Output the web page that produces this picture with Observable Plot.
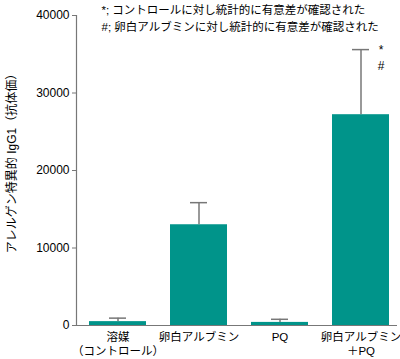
<!DOCTYPE html>
<html>
<head>
<meta charset="utf-8">
<script src="https://cdn.jsdelivr.net/npm/d3@7"></script>
<script src="https://cdn.jsdelivr.net/npm/@observablehq/plot@0.6"></script>
<style>
  html, body { margin: 0; padding: 0; background: #fff; }
  #chart svg { display: block; }
</style>
</head>
<body>
<div id="chart"></div>
<script>
// Categories (x labels) and values
const categories = ["溶媒\n（コントロール）", "卵白アルブミン", "PQ", "卵白アルブミン\n＋PQ"];
const means = [500, 13000, 400, 27200];
const upperErr = [950, 15850, 800, 35600];
const sigStar = ["", "", "", "*"];
const sigHash = ["", "", "", "#"];
const yTicks = [0, 10000, 20000, 30000, 40000];
const yLabel = "アレルゲン特異的 IgG1（抗体価）";
const notes = "*; コントロールに対し統計的に有意差が確認された\n#; 卵白アルブミンに対し統計的に有意差が確認された";

const data = categories.map((c, i) => ({
  cat: c, mean: means[i], upper: upperErr[i], star: sigStar[i], hash: sigHash[i]
}));

const font = "'Liberation Sans', Arial, 'Noto Sans CJK JP', sans-serif";
const teal = "#00948a";
const gray = "#777";

const chart = Plot.plot({
  width: 400,
  height: 359,
  marginLeft: 76,
  marginRight: 3,
  marginTop: 15,
  marginBottom: 34,
  style: { fontFamily: font, fontSize: "12px", color: "#000", background: "#fff" },
  x: { domain: categories, range: [76, 401], paddingInner: 0.3, paddingOuter: 0.15, label: null },
  y: { domain: [0, 40000], label: null },
  marks: [
    Plot.barY(data, { x: "cat", y: "mean", fill: teal }),
    Plot.ruleX(data, { x: "cat", y1: "mean", y2: "upper", stroke: gray, strokeWidth: 1.5 }),
    Plot.tickY(data, { x: "cat", y: "upper", stroke: gray, strokeWidth: 1.5, insetLeft: 20, insetRight: 20 }),
    Plot.ruleY([0], { stroke: gray, strokeWidth: 1.2 }),
    Plot.frame({ anchor: "left", stroke: gray, strokeWidth: 1.2 }),
    Plot.axisY({ ticks: yTicks, tickFormat: d3.format("d"), tickSize: 4, tickPadding: 3, stroke: gray, fontSize: 12, label: null }),
    Plot.axisX({ tickSize: 0, tickPadding: 6, fontSize: 11.5, lineHeight: 1.2, label: null }),
    Plot.text(data, { x: "cat", y: "upper", text: "star", dx: 20, dy: 1, fontSize: 12, textAnchor: "middle" }),
    Plot.text(data, { x: "cat", y: "upper", text: "hash", dx: 20, dy: 17, fontSize: 12, textAnchor: "middle" }),
    Plot.text([yLabel], { text: d => d, frameAnchor: "left", rotate: -90, dx: -64, dy: -10, fontSize: 12, textAnchor: "middle", lineAnchor: "middle" }),
    Plot.text([notes], { text: d => d, frameAnchor: "top-left", dx: 25, dy: -14, fontSize: 11.5, textAnchor: "start", lineAnchor: "top", lineHeight: 1.5 })
  ]
});
document.getElementById("chart").appendChild(chart);
</script>
</body>
</html>
